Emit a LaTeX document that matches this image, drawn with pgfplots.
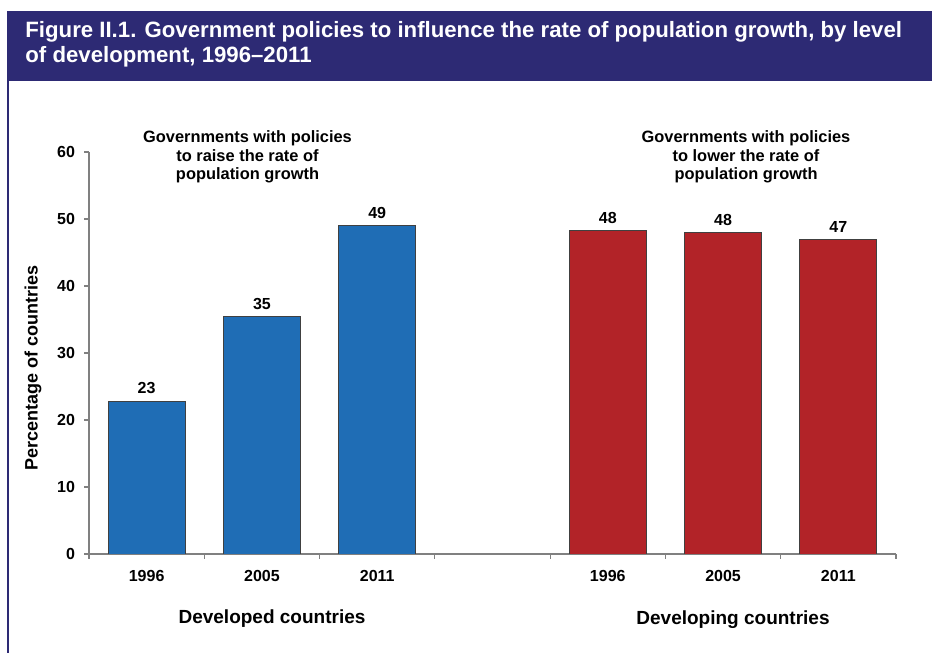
\documentclass[border=0pt]{standalone}
\usepackage{fontspec}
\setmainfont{Liberation Sans}
\usepackage{pgfplots}
\pgfplotsset{compat=1.18}
\definecolor{navy}{RGB}{45,42,116}
\definecolor{barblue}{RGB}{31,109,181}
\definecolor{barred}{RGB}{178,35,40}
\definecolor{axgray}{RGB}{128,128,128}
\begin{document}
\begin{tikzpicture}[x=0.5pt,y=0.5pt]
\path[use as bounding box] (0,0) rectangle (932,653);
\fill[navy] (7,572) rectangle (932,642);
\draw[navy, line width=0.8pt] (8,572) -- (8,0);
\node[anchor=base west, text=white, font=\bfseries\fontsize{11.1}{13}\selectfont, inner sep=0] at (25,615.5) {Figure II.1. Government policies to influence the rate of population growth, by level};
\node[anchor=base west, text=white, font=\bfseries\fontsize{11.1}{13}\selectfont, inner sep=0] at (25,590) {of development, 1996--2011};
\begin{axis}[
  at={(44.5pt,49.5pt)}, anchor=south west, scale only axis,
  width=403.5pt, height=201pt,
  xmin=-0.5, xmax=6.5, ymin=0, ymax=60,
  axis x line*=bottom, axis y line*=left,
  ytick={0,10,...,60},
  xtick={0,1,2,4,5,6}, xticklabels={1996,2005,2011,1996,2005,2011},
  major x tick style={draw=none},
  minor xtick={-0.5,0.5,1.5,2.5,3.5,4.5,5.5,6.5},
  tick align=outside,
  major tick length=2.5pt, minor tick length=2.5pt,
  axis line style={axgray, line width=0.6pt},
  tick style={axgray, line width=0.6pt},
  ticklabel style={font=\bfseries\fontsize{8}{9.6}\selectfont},
  xticklabel style={yshift=-2pt},
  yticklabel style={xshift=-1pt},
  /pgf/number format/assume math mode=true,
  ybar, bar width=0.668, bar shift=0pt,
  nodes near coords, point meta=explicit symbolic,
  every node near coord/.append style={font=\bfseries\fontsize{8}{9.6}\selectfont, yshift=0pt, text=black},
]
\addplot[fill=barblue, draw=black!75, line width=0.4pt] coordinates {(0,22.8)[23] (1,35.4)[35] (2,49.0)[49]};
\addplot[fill=barred, draw=black!75, line width=0.4pt] coordinates {(4,48.3)[48] (5,48.0)[48] (6,47.0)[47]};
\end{axis}
\node[rotate=90, font=\bfseries\fontsize{9}{11}\selectfont] at (33,285) {Percentage of countries};
\node[font=\bfseries\fontsize{8.2}{9.25}\selectfont, align=center] at (247.5,496) {Governments with policies\\to raise the rate of\\population growth};
\node[font=\bfseries\fontsize{8.2}{9.25}\selectfont, align=center] at (746,496) {Governments with policies\\to lower the rate of\\population growth};
\node[font=\bfseries\fontsize{9.5}{11}\selectfont] at (272,34) {Developed countries};
\node[font=\bfseries\fontsize{9.5}{11}\selectfont] at (733,33) {Developing countries};
\end{tikzpicture}
\end{document}
